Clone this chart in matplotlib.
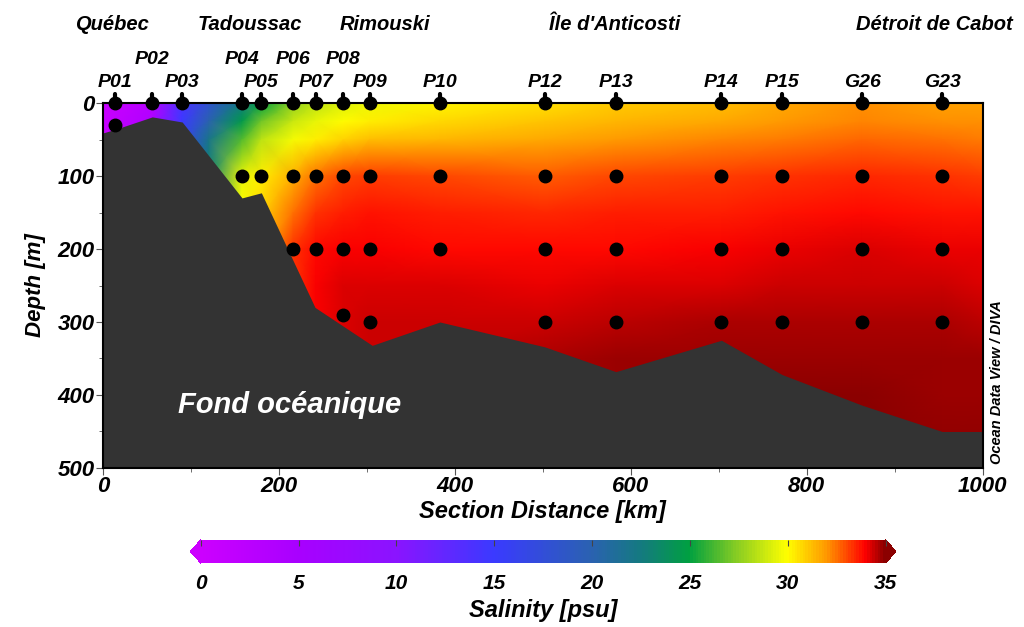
import numpy as np
import matplotlib
matplotlib.use("Agg")
from matplotlib import pyplot as plt
from matplotlib.colors import LinearSegmentedColormap, Normalize

plt.rcParams['font.family'] = ['Liberation Sans', 'DejaVu Sans']

# stations along the section
stations = ['P01', 'P02', 'P03', 'P04', 'P05', 'P06', 'P07', 'P08', 'P09', 'P10',
            'P12', 'P13', 'P14', 'P15', 'G26', 'G23']
station_km = [14, 56, 90, 158, 180, 216, 242, 273, 303, 383, 502, 583, 703, 772, 863, 954]
upper_row = [0, 1, 0, 1, 0, 1, 0, 1, 0, 0, 0, 0, 0, 0, 0, 0]
sample_depths = [[0, 30], [0], [0], [0, 100], [0, 100], [0, 100, 200], [0, 100, 200],
                 [0, 100, 200, 290], [0, 100, 200, 300], [0, 100, 200],
                 [0, 100, 200, 300], [0, 100, 200, 300], [0, 100, 200, 300],
                 [0, 100, 200, 300], [0, 100, 200, 300], [0, 100, 200, 300]]

# places written above
places = ['Québec', 'Tadoussac', 'Rimouski', "Île d'Anticosti", 'Détroit de Cabot']
places_km = [10, 167, 321, 582, 945]

# bottom profile
bottom_km = [0, 14, 56, 90, 158, 180, 241, 306, 383, 502, 583, 703, 772, 863, 954, 1000]
bottom_m = [41, 36, 19, 26, 130, 123, 280, 332, 300, 334, 368, 325, 372, 414, 450, 450]

# salinity read on a coarse grid (one list per distance, from surface down)
grid_km = [0, 14, 56, 90, 120, 158, 180, 216, 242, 273, 303, 383, 502, 583, 703, 772, 863, 954, 1000]
grid_depth = [0, 25, 50, 100, 150, 200, 250, 300, 350, 400, 500]
sal_grid = [
    [0.5, 0.5, 1, 1, 1, 1, 1, 1, 1, 1, 1],
    [1, 1.5, 2, 2, 2, 2, 2, 2, 2, 2, 2],
    [3, 4, 4, 4, 4, 4, 4, 4, 4, 4, 4],
    [14, 15, 16, 16, 16, 16, 16, 16, 16, 16, 16],
    [18, 20, 22, 23, 23, 23, 23, 23, 23, 23, 23],
    [22.5, 24.5, 26.5, 29.5, 30, 30, 30, 30, 30, 30, 30],
    [25, 27, 28.5, 30.3, 30.8, 30.8, 30.8, 30.8, 30.8, 30.8, 30.8],
    [27.5, 28.8, 29.8, 31.5, 32.5, 33.3, 33.3, 33.3, 33.3, 33.3, 33.3],
    [28.5, 29.5, 30.3, 32.5, 33.3, 33.8, 34.0, 34.0, 34.0, 34.0, 34.0],
    [29.2, 30.0, 30.8, 33.0, 33.6, 34.0, 34.2, 34.3, 34.3, 34.3, 34.3],
    [29.6, 30.3, 31.2, 33.2, 33.7, 34.0, 34.2, 34.4, 34.4, 34.4, 34.4],
    [30.1, 30.7, 31.4, 33.0, 33.6, 33.9, 34.2, 34.4, 34.4, 34.4, 34.4],
    [30.6, 31.1, 31.7, 32.8, 33.4, 33.8, 34.1, 34.45, 34.6, 34.6, 34.6],
    [31.0, 31.4, 31.9, 33.0, 33.5, 33.9, 34.2, 34.55, 34.8, 34.8, 34.8],
    [31.3, 31.7, 32.2, 33.2, 33.6, 34.0, 34.3, 34.65, 34.85, 34.9, 34.9],
    [31.6, 31.9, 32.4, 33.3, 33.7, 34.1, 34.35, 34.65, 34.85, 34.9, 34.9],
    [32.0, 32.2, 32.6, 33.4, 33.8, 34.2, 34.4, 34.65, 34.85, 34.9, 34.9],
    [31.8, 32.1, 32.5, 33.3, 33.7, 34.1, 34.35, 34.6, 34.8, 34.85, 34.9],
    [31.8, 32.0, 32.4, 33.2, 33.7, 34.1, 34.3, 34.55, 34.8, 34.85, 34.9],
]

# colour scale like ODV
cmap_vals = [0, 5, 10, 15, 20, 22.5, 25, 27.5, 30, 32, 34, 35]
cmap_cols = ['#cc00ff', '#a800ff', '#8a14ff', '#3a3aff', '#2a62b0', '#147a80', '#00a040',
             '#8cce22', '#ffff00', '#ff9900', '#ff0000', '#8b0000']
cmap = LinearSegmentedColormap.from_list('odv', [(v / 35.0, c) for v, c in zip(cmap_vals, cmap_cols)])
norm = Normalize(vmin=0, vmax=35)

fig = plt.figure(figsize=(10.24, 6.27), dpi=100)
ax = fig.add_axes([0.1006, 0.2536, 0.859, 0.5821])

X, Y = np.meshgrid(grid_km, grid_depth)
S = np.array(sal_grid).T
ax.pcolormesh(X, Y, S, shading='gouraud', cmap=cmap, norm=norm, zorder=1)

# sea floor
ax.fill_between(bottom_km, bottom_m, 500, color='#333333', lw=0, zorder=2)
ax.text(85, 414, 'Fond océanique', color='white', fontsize=21, fontweight='bold',
        fontstyle='italic', ha='left', va='center', zorder=3)

# stations
for name, km, up, deps in zip(stations, station_km, upper_row, sample_depths):
    ax.plot([km, km], [-12, 0], color='black', lw=3, solid_capstyle='round', clip_on=False, zorder=5)
    ax.plot([km] * len(deps), deps, 'o', color='black', ms=9, clip_on=False, zorder=5)
    ax.text(km, -48 if up else -17, name, fontsize=14, fontweight='bold', fontstyle='italic',
            ha='center', va='bottom', clip_on=False)
for name, km in zip(places, places_km):
    ax.text(km, -95, name, fontsize=14.5, fontweight='bold', fontstyle='italic',
            ha='center', va='bottom', clip_on=False)

ax.set_xlim(0, 1000)
ax.set_ylim(500, 0)
ax.set_xticks(range(0, 1001, 200))
ax.set_xticks(range(100, 1000, 200), minor=True)
ax.set_yticks(range(0, 501, 100))
ax.set_yticks(range(50, 500, 100), minor=True)
ax.tick_params(which='both', direction='out', color='#555555')
ax.tick_params(which='major', length=5, labelsize=16, pad=1)
ax.tick_params(which='minor', length=3)
for lab in ax.get_xticklabels() + ax.get_yticklabels():
    lab.set_fontweight('bold')
    lab.set_fontstyle('italic')
for sp in ax.spines.values():
    sp.set_linewidth(1.5)
    sp.set_zorder(6)
ax.set_xlabel('Section Distance [km]', fontsize=17, fontweight='bold', fontstyle='italic', labelpad=2)
ax.set_ylabel('Depth [m]', fontsize=16, fontweight='bold', fontstyle='italic', labelpad=8)

fig.text(0.974, 0.39, 'Ocean Data View / DIVA', rotation=90, fontsize=10.5, fontweight='bold',
         fontstyle='italic', ha='center', va='center')

# colour bar
cax = fig.add_axes([0.186, 0.102, 0.689, 0.037])
sm = plt.cm.ScalarMappable(norm=norm, cmap=cmap)
cb = fig.colorbar(sm, cax=cax, orientation='horizontal', extend='both', extendfrac=0.015)
cb.outline.set_visible(False)
cb.set_ticks(range(0, 36, 5))
cax.tick_params(direction='in', length=4, color='#444444', labelsize=15, pad=8,
                top=True, bottom=False, labeltop=False, labelbottom=True)
for lab in cax.get_xticklabels():
    lab.set_fontweight('bold')
    lab.set_fontstyle('italic')
cb.set_label('Salinity [psu]', fontsize=17, fontweight='bold', fontstyle='italic', labelpad=4)

plt.savefig('out.png', dpi=100)
